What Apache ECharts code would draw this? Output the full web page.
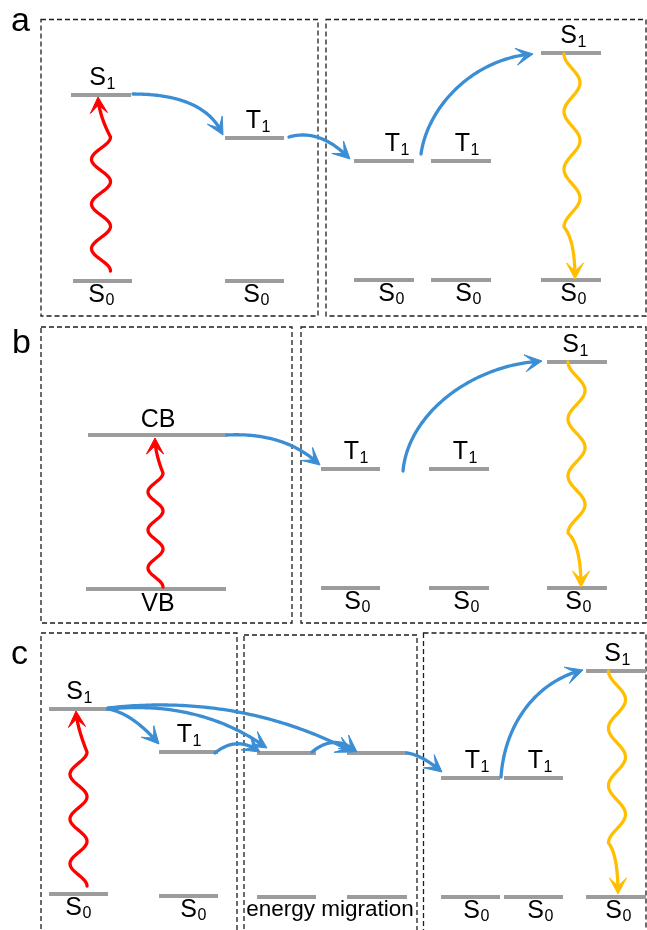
<!DOCTYPE html>
<html><head><meta charset="utf-8">
<script src="https://cdn.jsdelivr.net/npm/echarts@6/dist/echarts.min.js"></script>
<style>html,body{margin:0;padding:0;background:#fff}#chart{width:647px;height:930px}</style>
</head><body><div id="chart"></div>
<script>
// ---- diagram data (coordinates in the diagram's own x / y value space) ----
// dashed panel frames [x1, y1, x2, y2]
const boxes = [
  [41,19.5,318,316],[326,19.5,646,316],
  [41,327,292,623],[301,327,646,623],
  [41,633,237,945],[244,635,417,945],[423.5,633,646,945]
];
// panel letters [letter, left x, baseline y]
const panelLetters = [['a',11,34],['b',12,356],['c',11,667]];
// energy levels [x start, x end, level y]
const levels = [
  [71,131,95],[73,132,281],[225,284,138],[225,284,281],
  [354,414,161],[431,491,161],[541,601,53],[354,414,280],[431,491,280],[541,601,280],
  [88,227,435],[86,226,589],
  [321,380,469],[429,489,469],[547,607,362],[321,380,588],[429,489,588],[547,607,588],
  [49,108,709],[49,108,894],[159,218,752],[159,218,896],
  [257,316,753],[347,407,753],[257,316,897],[347,407,897],
  [441,500,778],[504,563,778],[586,646,671],[441,500,897],[504,563,897],[586,646,897]
];
// state labels [main, subscript, centre x, level y, side (1 above / -1 below)]
const stateLabels = [
  ['S','1',102,95,1],['S','0',101,281,-1],['T','1',257,138,1],['S','0',256,281,-1],
  ['T','1',396,161,1],['T','1',466,161,1],['S','1',573,53,1],['S','0',391,280,-1],['S','0',468,280,-1],['S','0',573,280,-1],
  ['CB','',158,435,1],['VB','',158,589,-1],
  ['T','1',355,469,1],['T','1',464,469,1],['S','1',575,362,1],['S','0',357,588,-1],['S','0',466,588,-1],['S','0',578,588,-1],
  ['S','1',79,709,1],['S','0',78,894,-1],['T','1',188,752,1],['S','0',193,896,-1],
  ['T','1',476,778,1],['T','1',539,778,1],['S','1',617,671,1],['S','0',476,897,-1],['S','0',540,897,-1],['S','0',618,897,-1]
];
// captions [text, centre x, baseline y]
const captions = [['energy migration',330,918]];
// energy-transfer arrows (blue): quadratic [x0,y0,cx,cy,x1,y1] or cubic [x0,y0,c1x,c1y,c2x,c2y,x1,y1]
const transfers = [
  [133,94, 205,94, 223,135],
  [289,137, 320,128, 350,159],
  [421,154, 428,105, 475,58, 533,54],
  [227,435, 285,432, 320,465],
  [403,471, 408,415, 470,365, 542,361],
  [108,709, 132,713, 159,744],
  [108,709, 200,700, 267,748],
  [108,708, 240,693, 353,752],
  [215,753, 237,735, 260,752],
  [312,752, 335,733, 357,752],
  [407,753, 422,755, 442,772],
  [501,777, 505,720, 540,680, 583,670]
];
// excitation (red) wavy arrows [centre x, y start, y wave end, half waves, amplitude, bend x, bend y, tip x, tip y]
const excitations = [
  [101,271,137,6,9.5, 99,115, 98,97],
  [155.5,587,473,6,7.5, 155,453, 155,438],
  [78.5,886,752,6,8.5, 77,727, 76,711]
];
// emission (yellow) wavy arrows, same layout
const emissions = [
  [572,54,227,6,-8, 575,240, 575,279],
  [576.5,362,533,6,-8.5, 581,545, 581,587],
  [617,671,843,6,-8.5, 618,855, 618,894]
];

const FONT = '"Liberation Sans", Arial, Helvetica, sans-serif';
const BLUE = '#3b8ed4', RED = '#ff0000', YELLOW = '#ffbf00', GREY = '#9c9c9c', INK = '#000';

function toCubic(d){
  if (d.length === 8) return d.slice();
  const [x0,y0,cx,cy,x1,y1] = d;
  return [x0,y0, x0+2/3*(cx-x0), y0+2/3*(cy-y0), x1+2/3*(cx-x1), y1+2/3*(cy-y1), x1,y1];
}
function cubicPt(p,t){
  const u=1-t, a=u*u*u, b=3*u*u*t, c=3*u*t*t, e=t*t*t;
  return [a*p[0][0]+b*p[1][0]+c*p[2][0]+e*p[3][0], a*p[0][1]+b*p[1][1]+c*p[2][1]+e*p[3][1]];
}
function head(tip, from, len, hw, notch, color){
  let dx=tip[0]-from[0], dy=tip[1]-from[1]; const L=Math.hypot(dx,dy)||1; dx/=L; dy/=L;
  const px=-dy, py=dx;
  return {type:'polygon', shape:{points:[
    tip,
    [tip[0]-dx*len+px*hw, tip[1]-dy*len+py*hw],
    [tip[0]-dx*notch, tip[1]-dy*notch],
    [tip[0]-dx*len-px*hw, tip[1]-dy*len-py*hw]
  ]}, style:{fill:color, stroke:color, lineWidth:1, lineJoin:'miter'}};
}
function trimTo(points, tip, from, notch){
  let dx=tip[0]-from[0], dy=tip[1]-from[1]; const L=Math.hypot(dx,dy)||1; dx/=L; dy/=L;
  const out = points.filter(p => Math.hypot(p[0]-tip[0],p[1]-tip[1]) > notch+0.5);
  out.push([tip[0]-dx*notch, tip[1]-dy*notch]);
  return out;
}

function renderBox(params, api){
  const a = api.coord([api.value(0), api.value(1)]), b = api.coord([api.value(2), api.value(3)]);
  return {type:'rect', shape:{x:a[0], y:a[1], width:b[0]-a[0], height:b[1]-a[1]},
    style:{fill:null, stroke:'#1e1e1e', lineWidth:1.3, lineDash:[5,3]}};
}
function renderLevel(params, api){
  const a = api.coord([api.value(0), api.value(2)]), b = api.coord([api.value(1), api.value(2)]);
  return {type:'line', shape:{x1:a[0], y1:a[1], x2:b[0], y2:b[1]}, style:{stroke:GREY, lineWidth:4}};
}
function renderTransfer(params, api){
  const v = []; for (let i=0;i<8;i++) v.push(api.value(i));
  const p = [api.coord([v[0],v[1]]), api.coord([v[2],v[3]]), api.coord([v[4],v[5]]), api.coord([v[6],v[7]])];
  const pts = []; for (let i=0;i<=80;i++) pts.push(cubicPt(p, i/80));
  const tip = p[3], from = cubicPt(p, 0.88);
  return {type:'group', children:[
    {type:'polyline', shape:{points: trimTo(pts, tip, from, 8)}, style:{stroke:BLUE, lineWidth:3.3, fill:null, lineCap:'round', lineJoin:'round'}},
    head(tip, from, 17, 8.5, 8, BLUE)
  ]};
}
function makeWave(color){
  return function(params, api){
    const cx=api.value(0), y0=api.value(1), y1=api.value(2), n=api.value(3), amp=api.value(4);
    const bend=[api.value(5),api.value(6)], tipV=[api.value(7),api.value(8)];
    const pts = [];
    const N = 160;
    for (let i=0;i<=N;i++){
      const t=i/N;
      pts.push(api.coord([cx + amp*Math.cos(Math.PI*n*t), y0 + (y1-y0)*t]));
    }
    const w = pts[pts.length-1];
    const c = api.coord(bend), tip = api.coord(tipV);
    for (let i=1;i<=40;i++){
      const t=i/40, u=1-t;
      pts.push([u*u*w[0]+2*u*t*c[0]+t*t*tip[0], u*u*w[1]+2*u*t*c[1]+t*t*tip[1]]);
    }
    return {type:'group', children:[
      {type:'polyline', shape:{points: trimTo(pts, tip, c, 8)}, style:{stroke:color, lineWidth:3.3, fill:null, lineCap:'round', lineJoin:'round'}},
      head(tip, c, 16, 8.5, 8, color)
    ]};
  };
}
function renderState(params, api){
  const d = stateLabels[params.dataIndex];
  const p = api.coord([api.value(0), api.value(1)]);
  const side = d[4];
  const mainY = side>0 ? p[1]-17 : p[1]+14;
  const subY  = side>0 ? p[1]-10 : p[1]+20;
  if (!d[1]) return {type:'text', style:{text:d[0], x:p[0], y:side>0?p[1]-15:p[1]+15, font:'25px '+FONT, fill:INK, align:'center', verticalAlign:'middle'}};
  const split = p[0]+4;
  return {type:'group', children:[
    {type:'text', style:{text:d[0], x:split, y:mainY, font:'25px '+FONT, fill:INK, align:'right', verticalAlign:'middle'}},
    {type:'text', style:{text:d[1], x:split+0.5, y:subY, font:'16px '+FONT, fill:INK, align:'left', verticalAlign:'middle'}}
  ]};
}
function renderLetter(params, api){
  const d = panelLetters[params.dataIndex];
  const p = api.coord([api.value(0), api.value(1)]);
  return {type:'text', style:{text:d[0], x:p[0], y:p[1]-12, font:'34px '+FONT, fill:INK, align:'left', verticalAlign:'middle'}};
}
function renderCaption(params, api){
  const d = captions[params.dataIndex];
  const p = api.coord([api.value(0), api.value(1)]);
  return {type:'text', style:{text:d[0], x:p[0], y:p[1]-8, font:'22.5px '+FONT, fill:INK, align:'center', verticalAlign:'middle'}};
}

const chart = echarts.init(document.getElementById('chart'), null, {renderer:'canvas'});
const base = {type:'custom', coordinateSystem:'cartesian2d', silent:true, clip:false};
chart.setOption({
  animation:false,
  backgroundColor:'#fff',
  grid:{left:0, right:0, top:0, bottom:0},
  xAxis:{type:'value', min:0, max:647, show:false},
  yAxis:{type:'value', min:0, max:930, inverse:true, show:false},
  series:[
    Object.assign({}, base, {name:'frames', z:1, renderItem:renderBox, data:boxes}),
    Object.assign({}, base, {name:'levels', z:2, renderItem:renderLevel, data:levels}),
    Object.assign({}, base, {name:'excitation', z:3, renderItem:makeWave(RED), data:excitations}),
    Object.assign({}, base, {name:'emission', z:3, renderItem:makeWave(YELLOW), data:emissions}),
    Object.assign({}, base, {name:'transfer', z:4, renderItem:renderTransfer, data:transfers.map(toCubic)}),
    Object.assign({}, base, {name:'states', z:5, renderItem:renderState, data:stateLabels.map(d=>[d[2],d[3]])}),
    Object.assign({}, base, {name:'letters', z:5, renderItem:renderLetter, data:panelLetters.map(d=>[d[1],d[2]])}),
    Object.assign({}, base, {name:'captions', z:5, renderItem:renderCaption, data:captions.map(d=>[d[1],d[2]])})
  ]
});
</script></body></html>
